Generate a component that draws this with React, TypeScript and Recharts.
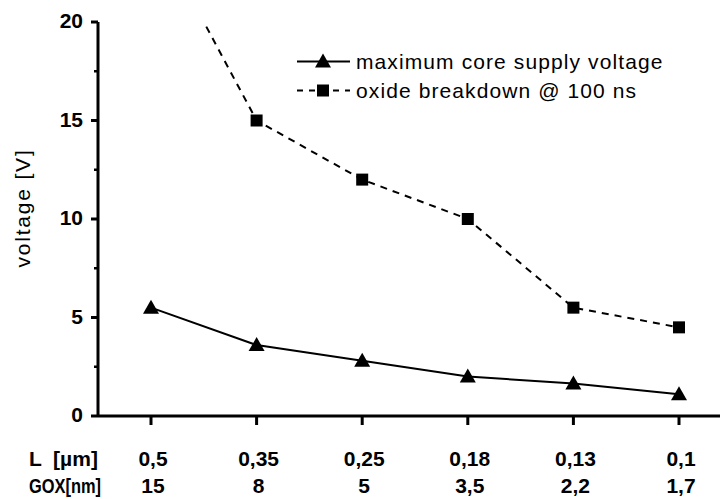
import React from 'react';
import { LineChart, Line, XAxis, YAxis, Legend } from 'recharts';

const lengthLabels = ['0,5', '0,35', '0,25', '0,18', '0,13', '0,1'];
const goxLabels = ['15', '8', '5', '3,5', '2,2', '1,7'];
const coreSupply = [5.5, 3.6, 2.8, 2.0, 1.65, 1.1];
const oxideBreakdown = [25, 15, 12, 10, 5.5, 4.5];
const yTicks = [0, 2.5, 5, 7.5, 10, 12.5, 15, 17.5, 20];

const data = lengthLabels.map((l, i) => ({
  L: l,
  gox: goxLabels[i],
  core: coreSupply[i],
  oxide: oxideBreakdown[i],
}));

const FONT = '"Liberation Sans", Arial, Helvetica, sans-serif';

const XTick = (props: any) => {
  const { x, y, payload } = props;
  const idx = lengthLabels.indexOf(payload.value);
  return (
    <g>
      <line x1={x} y1={y} x2={x} y2={y + 9} stroke="#000" strokeWidth={3} />
      <text x={x + 2} y={y + 50} textAnchor="middle" fontFamily={FONT} fontSize={21} fontWeight="bold" fill="#000">
        {payload.value}
      </text>
      <text x={x + 2} y={y + 77} textAnchor="middle" fontFamily={FONT} fontSize={21} fontWeight="bold" fill="#000">
        {goxLabels[idx]}
      </text>
    </g>
  );
};

const YTick = (props: any) => {
  const { x, y, payload } = props;
  const major = payload.value % 5 === 0;
  if (!major) {
    return <line x1={x - 4} y1={y} x2={x} y2={y} stroke="#000" strokeWidth={2.5} />;
  }
  return (
    <g>
      <line x1={x - 7} y1={y} x2={x} y2={y} stroke="#000" strokeWidth={3} />
      <text x={x - 15} y={y + 6} textAnchor="end" fontFamily={FONT} fontSize={21} fontWeight="bold" fill="#000">
        {payload.value}
      </text>
    </g>
  );
};

const XAxisRowLabels = (props: any) => {
  const vb = props.viewBox || { x: 98, y: 416 };
  return (
    <g fontFamily={FONT} fontSize={21} fontWeight="bold" fill="#000">
      <text x={vb.x - 69} y={vb.y + 50} style={{ whiteSpace: 'pre' }} xmlSpace="preserve">L  [µm]</text>
      <text x={vb.x - 69} y={vb.y + 77} textLength={72} lengthAdjust="spacingAndGlyphs">GOX[nm]</text>
    </g>
  );
};

const YAxisTitle = (props: any) => {
  const vb = props.viewBox || { x: 0, y: 22, width: 98, height: 394 };
  const cx = 30;
  const cy = vb.y + vb.height / 2 - 11;
  return (
    <text
      x={cx}
      y={cy}
      transform={`rotate(-90, ${cx}, ${cy})`}
      textAnchor="middle"
      fontFamily={FONT}
      fontSize={21}
      letterSpacing={1.8}
      fill="#000"
    >
      voltage [V]
    </text>
  );
};

const TriangleDot = (props: any) => {
  const { cx, cy, index } = props;
  if (cx == null || cy == null) return <g key={`t-${index}`} />;
  return (
    <polygon
      key={`t-${index}`}
      points={`${cx},${cy - 8} ${cx - 8},${cy + 6} ${cx + 8},${cy + 6}`}
      fill="#000"
    />
  );
};

const SquareDot = (props: any) => {
  const { cx, cy, index } = props;
  if (cx == null || cy == null) return <g key={`s-${index}`} />;
  return <rect key={`s-${index}`} x={cx - 6} y={cy - 6} width={12} height={12} fill="#000" />;
};

const renderLegend = () => (
  <div style={{ fontFamily: FONT, fontSize: 21, letterSpacing: 1.1, color: '#000' }}>
    <div style={{ display: 'flex', alignItems: 'center', height: 29 }}>
      <svg width={56} height={29} style={{ display: 'block' }}>
        <line x1={0} y1={14.5} x2={53} y2={14.5} stroke="#000" strokeWidth={2} />
        <polygon points="26,6.5 18,20.5 34,20.5" fill="#000" />
      </svg>
      <span style={{ marginLeft: 3, whiteSpace: 'nowrap' }}>maximum core supply voltage</span>
    </div>
    <div style={{ display: 'flex', alignItems: 'center', height: 29 }}>
      <svg width={56} height={29} style={{ display: 'block' }}>
        <line x1={0} y1={14.5} x2={53} y2={14.5} stroke="#000" strokeWidth={2} strokeDasharray="6 6" />
        <rect x={20} y={8.5} width={12} height={12} fill="#000" />
      </svg>
      <span style={{ marginLeft: 3, whiteSpace: 'nowrap' }}>oxide breakdown @ 100 ns</span>
    </div>
  </div>
);

export default function App() {
  return (
    <div
      style={{
        position: 'absolute',
        left: 0,
        top: 0,
        width: 720,
        height: 499,
        overflow: 'hidden',
        background: '#fff',
      }}
    >
      <LineChart width={740} height={499} data={data} margin={{ top: 22, right: 8, bottom: 0, left: 0 }}>
        <XAxis
          dataKey="L"
          type="category"
          height={83}
          padding={{ left: 53, right: 53 }}
          interval={0}
          tickSize={0}
          tickMargin={0}
          tickLine={false}
          tick={<XTick />}
          axisLine={{ stroke: '#000', strokeWidth: 3 }}
          label={{ content: <XAxisRowLabels /> }}
        />
        <XAxis
          xAxisId="top"
          orientation="top"
          dataKey="L"
          type="category"
          height={0}
          padding={{ left: 53, right: 53 }}
          tick={false}
          tickLine={false}
          axisLine={{ stroke: '#000', strokeWidth: 3 }}
        />
        <YAxis
          type="number"
          domain={[0, 20]}
          allowDataOverflow
          ticks={yTicks}
          interval={0}
          width={98}
          tickSize={0}
          tickMargin={0}
          tickLine={false}
          tick={<YTick />}
          axisLine={{ stroke: '#000', strokeWidth: 3 }}
          label={{ content: <YAxisTitle /> }}
        />
        <Legend
          content={renderLegend}
          layout="horizontal"
          verticalAlign="middle"
          align="center"
          wrapperStyle={{ left: 297, top: 47, width: 420 }}
        />
        <Line
          type="linear"
          dataKey="core"
          name="maximum core supply voltage"
          stroke="#000"
          strokeWidth={2}
          dot={TriangleDot}
          activeDot={false}
          isAnimationActive={false}
        />
        <Line
          type="linear"
          dataKey="oxide"
          name="oxide breakdown @ 100 ns"
          stroke="#000"
          strokeWidth={2}
          strokeDasharray="7 6"
          dot={SquareDot}
          activeDot={false}
          isAnimationActive={false}
        />
      </LineChart>
    </div>
  );
}
